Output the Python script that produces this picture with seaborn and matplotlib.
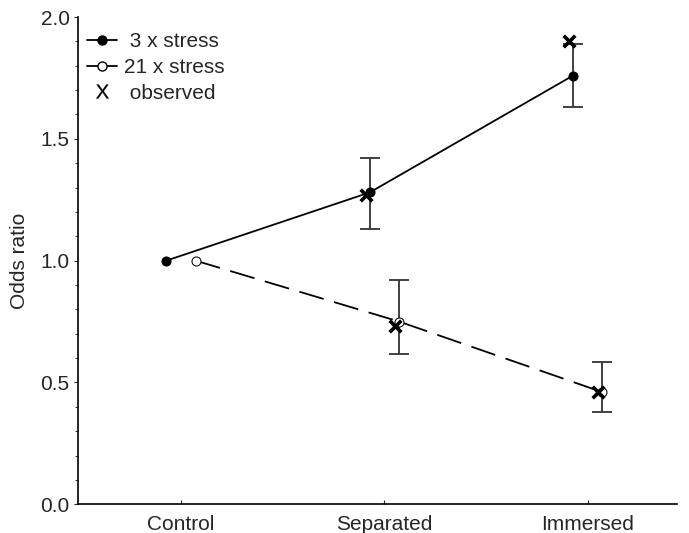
import seaborn as sns
import matplotlib.pyplot as plt
from matplotlib.lines import Line2D
from matplotlib.ticker import MultipleLocator
import numpy as np
import pandas as pd

conditions = ["Control", "Separated", "Immersed"]
stress3 = [1.0, 1.28, 1.76]
stress3_lo = [np.nan, 1.13, 1.63]
stress3_hi = [np.nan, 1.42, 1.89]
stress21 = [1.0, 0.75, 0.46]
stress21_lo = [np.nan, 0.615, 0.38]
stress21_hi = [np.nan, 0.92, 0.585]
obs_conditions = ["Separated", "Immersed"]
observed3 = [1.27, 1.90]
observed21 = [0.73, 0.46]

sns.set_style("ticks")
plt.rcParams['font.family'] = ['Liberation Sans', 'DejaVu Sans']
plt.rcParams['mathtext.fontset'] = 'custom'
plt.rcParams['mathtext.sf'] = 'Liberation Sans'

pos = np.arange(len(conditions))
off = 0.072
df3 = pd.DataFrame({'x': pos - off, 'y': stress3})
df21 = pd.DataFrame({'x': pos + off, 'y': stress21})
obs_pos = np.array([conditions.index(c) for c in obs_conditions])

fig = plt.figure(figsize=(6.89, 5.33), dpi=100)
ax = fig.add_axes([0.113, 0.054, 0.87, 0.914])

# error bars
ax.errorbar(pos - off, stress3, yerr=[np.array(stress3) - np.array(stress3_lo),
            np.array(stress3_hi) - np.array(stress3)], fmt='none',
            ecolor='#333333', elinewidth=1.3, capsize=7.5, capthick=1.3, zorder=2)
ax.errorbar(pos + off, stress21, yerr=[np.array(stress21) - np.array(stress21_lo),
            np.array(stress21_hi) - np.array(stress21)], fmt='none',
            ecolor='#333333', elinewidth=1.3, capsize=7.5, capthick=1.3, zorder=2)

sns.lineplot(data=df3, x='x', y='y', ax=ax, color='black', lw=1.3,
             marker='o', markersize=6.5, markerfacecolor='black',
             markeredgecolor='black', zorder=3)
sns.lineplot(data=df21, x='x', y='y', ax=ax, color='black', lw=1.3,
             linestyle=(0, (14, 6)), marker='o', markersize=6.5,
             markerfacecolor='white', markeredgecolor='black', zorder=3)

sns.scatterplot(x=obs_pos - off - 0.02, y=observed3, ax=ax, marker='x',
                s=70, color='black', linewidth=2.6, zorder=4)
sns.scatterplot(x=obs_pos + off - 0.02, y=observed21, ax=ax, marker='x',
                s=70, color='black', linewidth=2.6, zorder=4)

ax.set_xlim(-0.507, 2.44)
ax.set_ylim(0, 2.0)
ax.set_xticks(pos)
ax.set_xticklabels(conditions)
ax.yaxis.set_major_locator(MultipleLocator(0.5))
ax.yaxis.set_minor_locator(MultipleLocator(0.1))
ax.yaxis.set_major_formatter(plt.FormatStrFormatter('%.1f'))
ax.tick_params(axis='y', which='major', direction='out', length=3, labelsize=15, pad=3)
ax.tick_params(axis='y', which='minor', direction='out', length=2)
ax.tick_params(axis='x', direction='in', length=3, labelsize=15, pad=8)
ax.set_xlabel('')
ax.set_ylabel('Odds ratio', fontsize=15, labelpad=8)
for s in ['top', 'right']:
    ax.spines[s].set_visible(False)
for s in ['left', 'bottom']:
    ax.spines[s].set_linewidth(1.2)
    ax.spines[s].set_color('black')

handles = [
    Line2D([], [], color='black', lw=1.3, marker='o', markersize=6.5,
           markerfacecolor='black'),
    Line2D([], [], color='black', lw=1.3, marker='o', markersize=6.5,
           markerfacecolor='white'),
    Line2D([], [], linestyle='none', marker='$\\mathsf{X}$', markersize=10,
           markeredgewidth=0.2, color='black'),
]
ax.legend(handles, [' 3 x stress', '21 x stress', ' observed'],
          loc='upper left', bbox_to_anchor=(0.0, 0.988), frameon=False,
          fontsize=15, handlelength=1.45, handletextpad=0.3, labelspacing=0.32,
          borderaxespad=0.05)

fig.savefig('out.png', dpi=100)
